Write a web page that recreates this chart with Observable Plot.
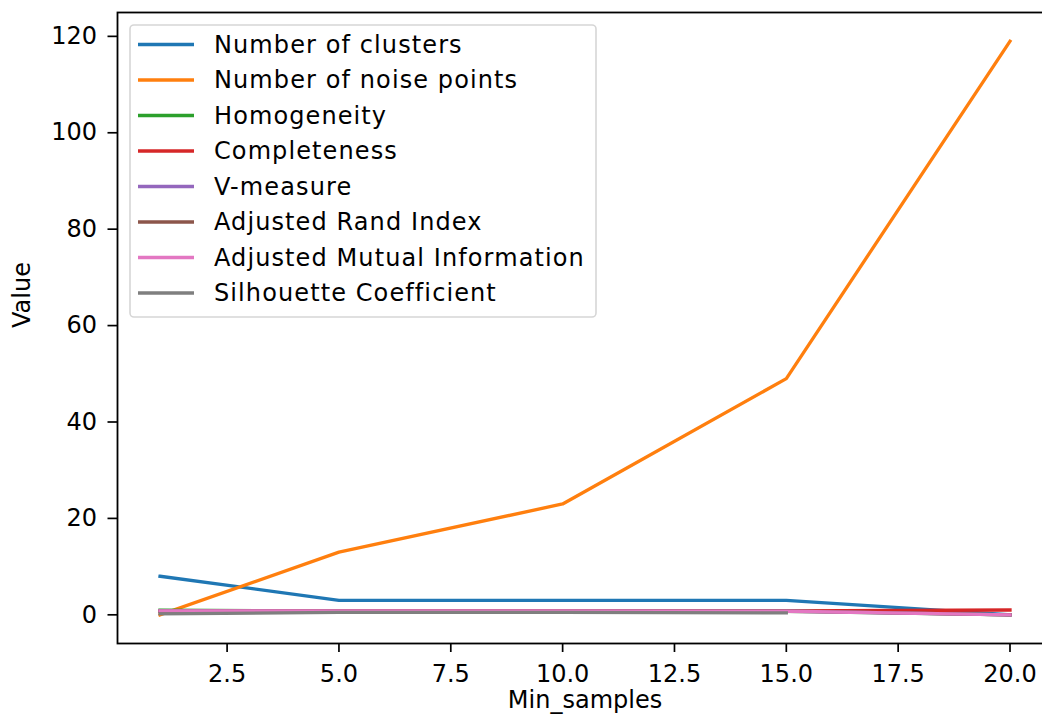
<!DOCTYPE html>
<html>
<head>
<meta charset="utf-8">
<script src="https://cdn.jsdelivr.net/npm/d3@7"></script>
<script src="https://cdn.jsdelivr.net/npm/@observablehq/plot@0.6"></script>
<style>
  html, body { margin: 0; padding: 0; background: #fff; overflow: hidden; }
  #chart svg { display: block; font-family: "DejaVu Sans", sans-serif; }
</style>
</head>
<body>
<div id="chart"></div>
<script>
// DBSCAN evaluation metrics against min_samples
const minSamples = [1, 5, 10, 15, 20];
const seriesNames = [
  "Number of clusters",
  "Number of noise points",
  "Homogeneity",
  "Completeness",
  "V-measure",
  "Adjusted Rand Index",
  "Adjusted Mutual Information",
  "Silhouette Coefficient"
];
const seriesColors = ["#1f77b4", "#ff7f0e", "#2ca02c", "#d62728", "#9467bd", "#8c564b", "#e377c2", "#7f7f7f"];

const numClusters   = [8, 3, 3, 3, 0];
const numNoise      = [0, 13, 23, 49, 119];
const homogeneity   = [0.95, 0.75, 0.75, 0.7, 0];
const completeness  = [0.7, 0.85, 0.85, 0.8, 1.0];
const vMeasure      = [0.8, 0.8, 0.8, 0.75, 0];
const adjRand       = [0.7, 0.85, 0.85, 0.8, 0];
const adjMutualInfo = [0.8, 0.8, 0.8, 0.74, 0];
const silhouette    = [0.2, 0.5, 0.5, 0.4, null]; // undefined with a single label

const xTicks = [2.5, 5, 7.5, 10, 12.5, 15, 17.5, 20];
const yTicks = [0, 20, 40, 60, 80, 100, 120];

const allSeries = [numClusters, numNoise, homogeneity, completeness, vMeasure, adjRand, adjMutualInfo, silhouette];

const rows = [];
allSeries.forEach((vals, i) => {
  vals.forEach((v, j) => {
    if (v != null) rows.push({series: seriesNames[i], x: minSamples[j], y: v});
  });
});

// 5% padding around the data extent
const xExt = d3.extent(rows, d => d.x);
const yExt = d3.extent(rows, d => d.y);
const xPad = (xExt[1] - xExt[0]) * 0.05;
const yPad = (yExt[1] - yExt[0]) * 0.05;

const FS = 24;

// legend drawn inside the frame, top-left
function legend(index, scales, values, dim) {
  const g = d3.create("svg:g");
  const x0 = dim.marginLeft + 13, y0 = dim.marginTop + 13;
  const rowH = 35.5;
  g.append("rect")
    .attr("x", x0).attr("y", y0)
    .attr("width", 466).attr("height", 292)
    .attr("rx", 4).attr("ry", 4)
    .attr("fill", "#fff").attr("fill-opacity", 0.8)
    .attr("stroke", "#d6d6d6").attr("stroke-width", 1.6);
  seriesNames.forEach((name, i) => {
    const cy = y0 + 19.5 + i * rowH;
    g.append("line")
      .attr("x1", x0 + 8).attr("x2", x0 + 64)
      .attr("y1", cy).attr("y2", cy)
      .attr("stroke", seriesColors[i]).attr("stroke-width", 3.3);
    g.append("text")
      .attr("x", x0 + 84).attr("y", cy)
      .attr("dy", "0.35em")
      .attr("text-anchor", "start")
      .attr("font-size", FS)
      .attr("letter-spacing", "1.1px")
      .attr("fill", "#000")
      .text(name);
  });
  return g.node();
}

const chart = Plot.plot({
  width: 1042,
  height: 715,
  marginLeft: 117,
  marginRight: -10,   // right edge of the frame falls just past the canvas
  marginTop: 12,
  marginBottom: 72,
  style: {fontFamily: "DejaVu Sans, sans-serif", fontSize: FS + "px", color: "#000"},
  x: {domain: [xExt[0] - xPad, xExt[1] + xPad]},
  y: {domain: [yExt[0] - yPad, yExt[1] + yPad]},
  color: {domain: seriesNames, range: seriesColors},
  marks: [
    Plot.axisX({
      ticks: xTicks, tickFormat: d3.format(".1f"), tickSize: 9, tickPadding: 12,
      fontSize: FS, strokeWidth: 1.7, stroke: "#000", fill: "#000",
      label: null
    }),
    Plot.axisY({
      ticks: yTicks, tickSize: 9.5, tickPadding: 11,
      fontSize: FS, strokeWidth: 1.7, stroke: "#000", fill: "#000",
      label: null
    }),
    Plot.text(["Min_samples"], {
      frameAnchor: "bottom", dy: 47, text: d => d, fontSize: FS,
      fill: "#000", lineAnchor: "top", letterSpacing: "1px"
    }),
    Plot.text(["Value"], {
      frameAnchor: "left", dx: -95, rotate: -90, text: d => d, fontSize: FS,
      fill: "#000", lineAnchor: "middle", letterSpacing: "1px"
    }),
    Plot.line(rows, {
      x: "x", y: "y", z: "series", stroke: "series",
      strokeWidth: 3.3, strokeLinejoin: "round", strokeLinecap: "square"
    }),
    Plot.frame({stroke: "#000", strokeWidth: 1.8}),
    legend
  ]
});

document.getElementById("chart").append(chart);
</script>
</body>
</html>
